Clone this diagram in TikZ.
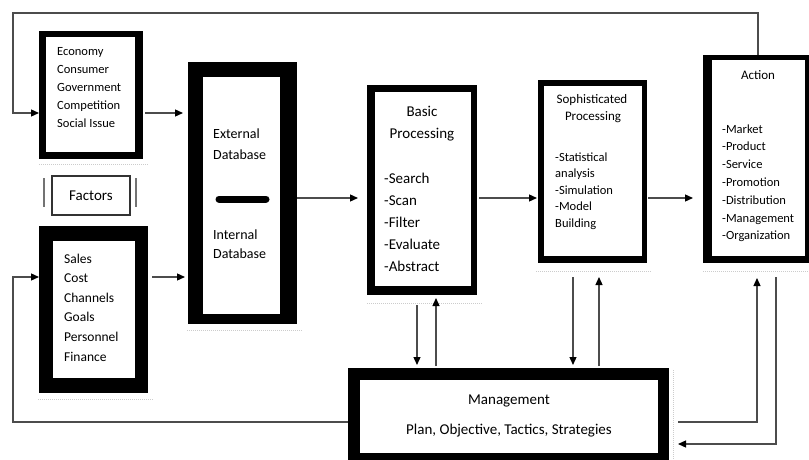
\documentclass[tikz,border=0pt]{standalone}
\usepackage{fontspec}
\setmainfont{Carlito}
\usetikzlibrary{arrows.meta,calc}

% heavy frame: name, x1, y1, x2, y2, left, top, right, bottom border widths
\newcommand{\heavybox}[9]{%
  \node[fill=black, inner sep=0pt, outer sep=0pt,
        minimum width={(#4-#2)*1pt}, minimum height={(#5-#3)*1pt}]
        (#1) at ({(#2+#4)/2},{(#3+#5)/2}) {};
  \fill[white] ({#2+#6},{#3+#7}) rectangle ({#4-#8},{#5-#9});
}

\begin{document}
\begin{tikzpicture}[x=1pt,y=-1pt,
  link/.style={draw=black!70, line width=1.3pt},
  arr/.style={link, -{Triangle[length=8pt,width=7pt,color=black]}},
  shade/.style={draw=black!20, line width=1pt, densely dotted},
  txt/.style={inner sep=0pt, anchor=base west},
  ctxt/.style={inner sep=0pt, anchor=base},
  small/.style={font=\fontsize{12.5}{15}\selectfont},
  mid/.style={font=\fontsize{13.5}{16}\selectfont},
  big/.style={font=\fontsize{15}{18}\selectfont}]
\useasboundingbox (0,0) rectangle (809,460);
\clip (0,0) rectangle (809,460);

% soft shadows under the frames
\draw[shade] (39,164) -- (148,164);
\draw[shade] (38,399) -- (153,399);
\draw[shade] (187,330) -- (302,330);
\draw[shade] (367,303) -- (482,303);
\draw[shade] (536,271) -- (652,271);
\draw[shade] (703,271) -- (809,271);
\draw[shade] (673,370) -- (673,460);

% frames
\heavybox{eco}{39}{31}{143}{159}{7}{6}{8}{7}
\heavybox{sal}{39}{226}{148}{393}{14}{15}{13}{15}
\heavybox{db}{188}{62}{297}{324}{15}{15}{17}{10}
\heavybox{basic}{367}{85}{477}{295}{8}{7}{6}{9}
\heavybox{soph}{538}{80}{647}{263}{6}{6}{5}{7}
\heavybox{act}{703}{55}{809}{263}{9}{5}{4}{7}
\heavybox{mgmt}{348}{368}{669}{470}{12}{12}{11}{17}

% factors label with its side bars
\node[draw=black!80, line width=1.2pt, minimum width=78pt, minimum height=39pt,
      inner sep=0pt, big] (fac) at (91,195.5) {Factors};
\draw[black!55, line width=1.5pt] (44,178) -- (44,207);
\draw[black!55, line width=1.5pt] (136,178) -- (136,207);

% texts
\foreach \w [count=\i] in {Economy,Consumer,Government,Competition,Social Issue}
  \node[txt, small] (eco-\i) at (57,{56+18*(\i-1)}) {\w};
\foreach \w [count=\i] in {Sales,Cost,Channels,Goals,Personnel,Finance}
  \node[txt, mid] (sal-\i) at (64,{263+19.6*(\i-1)}) {\w};
\node[txt, font=\fontsize{14}{16}\selectfont] (db-1) at (213,139) {External};
\node[txt, font=\fontsize{14}{16}\selectfont] (db-2) at (213,159) {Database};
\node[txt, font=\fontsize{14}{16}\selectfont] (db-3) at (213,239) {Internal};
\node[txt, font=\fontsize{14}{16}\selectfont] (db-4) at (213,258) {Database};
\draw[line width=7pt, line cap=round] (219,199) -- (266,199);

\node[ctxt, big] (basic-t1) at (422,117) {Basic};
\node[ctxt, big] (basic-t2) at (422,139) {Processing};
\foreach \w [count=\i] in {-Search,-Scan,-Filter,-Evaluate,-Abstract}
  \node[txt, big] (basic-\i) at (384,{183+22.2*(\i-1)}) {\w};

\node[ctxt, font=\fontsize{13}{15}\selectfont] (soph-t1) at (592,103) {Sophisticated};
\node[ctxt, font=\fontsize{13}{15}\selectfont] (soph-t2) at (593,121) {Processing};
\foreach \w [count=\i] in {-Statistical,analysis,-Simulation,-Model,Building}
  \node[txt, small] (soph-\i) at (555,{161+16.5*(\i-1)}) {\w};

\node[ctxt, font=\fontsize{13}{15}\selectfont] (act-t) at (758,80) {Action};
\foreach \w [count=\i] in {-Market,-Product,-Service,-Promotion,-Distribution,-Management,-Organization}
  \node[txt, small] (act-\i) at (722,{133+17.8*(\i-1)}) {\w};

\node[ctxt, big] (mgmt-t1) at (509,404) {Management};
\node[ctxt, big] (mgmt-t2) at (509,434) {Plan, Objective, Tactics, Strategies};

% routing rows and columns
\coordinate (ecorow) at (13,113);
\coordinate (salrow) at (13,277);
\coordinate (dbrow) at (0,198);
\coordinate (mgmtrow) at (0,422);
\coordinate (retrow) at (0,444);
\coordinate (colA) at (417,0);
\coordinate (colB) at (436,0);
\coordinate (colC) at (573,0);
\coordinate (colD) at (599,0);
\coordinate (colE) at (757,0);
\coordinate (colF) at (776,0);

% connectors
\draw[arr] ($(act.north west)+(55,0)$) -- ++(0,-42) -| (ecorow) -- (eco.west |- ecorow);
\draw[arr] ([xshift=2pt]eco.east |- ecorow) -- ([xshift=-5pt]db.west |- ecorow);
\draw[arr] ([xshift=4pt]sal.east |- salrow) -- ([xshift=-3pt]db.west |- salrow);
\draw[arr] (db.east |- dbrow) -- ([xshift=-9pt]basic.west |- dbrow);
\draw[arr] ([xshift=2pt]basic.east |- dbrow) -- ([xshift=-1pt]soph.west |- dbrow);
\draw[arr] ([xshift=1pt]soph.east |- dbrow) -- ([xshift=-10pt]act.west |- dbrow);

\draw[arr] ([yshift=-10pt]basic.south -| colA) -- ([yshift=3pt]mgmt.north -| colA);
\draw[arr] ([yshift=2pt]mgmt.north -| colB) -- ([yshift=-3pt]basic.south -| colB);
\draw[arr] ([yshift=-14pt]soph.south -| colC) -- ([yshift=3pt]mgmt.north -| colC);
\draw[arr] ([yshift=2pt]mgmt.north -| colD) -- ([yshift=-14pt]soph.south -| colD);

\draw[arr] ([xshift=9pt]mgmt.east |- mgmtrow) -| ([yshift=-15pt]act.south -| colE);
\draw[arr] ([yshift=-14pt]act.south -| colF) |- ([xshift=9pt]mgmt.east |- retrow);
\draw[arr] (mgmt.west |- mgmtrow) -| (salrow) -- (sal.west |- salrow);
\end{tikzpicture}
\end{document}
